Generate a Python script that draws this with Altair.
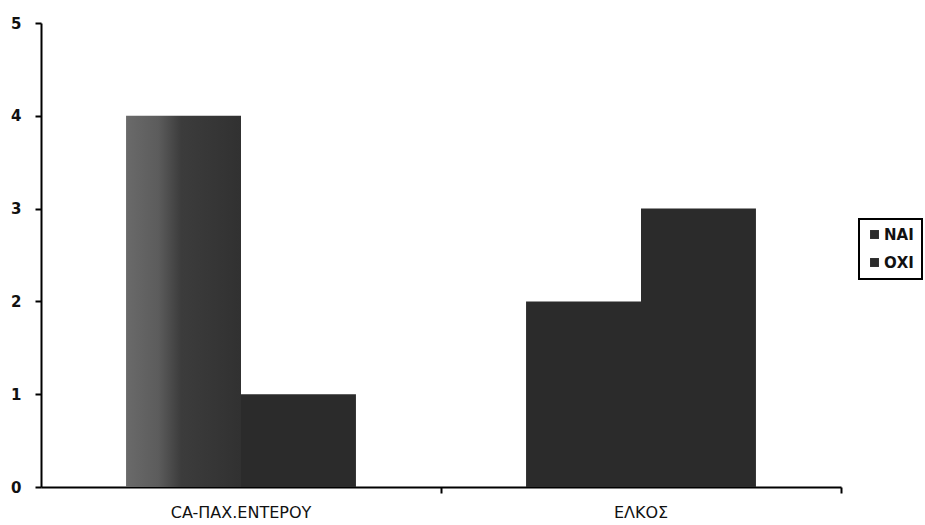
import altair as alt
import pandas as pd

# Chart data: counts per diagnosis, split by answer
categories = ["CA-ΠΑΧ.ΕΝΤΕΡΟΥ", "ΕΛΚΟΣ"]
series = ["ΝΑΙ", "ΟΧΙ"]
nai_values = [4, 2]
oxi_values = [1, 3]
y_ticks = [0, 1, 2, 3, 4, 5]

rows = []
for i, cat in enumerate(categories):
    rows.append({"diagnosis": cat, "answer": series[0], "count": nai_values[i]})
    rows.append({"diagnosis": cat, "answer": series[1], "count": oxi_values[i]})
df = pd.DataFrame(rows)

DARK = "#2b2b2b"
FONT = "DejaVu Sans"

# Shaded fill for the first ΝΑΙ column
shaded = alt.LinearGradient(
    gradient="linear",
    x1=0, x2=1, y1=0, y2=0,
    stops=[
        alt.GradientStop(color="#6a6a6a", offset=0),
        alt.GradientStop(color="#5c5c5c", offset=0.28),
        alt.GradientStop(color="#3c3c3c", offset=0.48),
        alt.GradientStop(color="#313131", offset=1),
    ],
)

bars = alt.Chart(df).mark_bar().encode(
    x=alt.X(
        "diagnosis:N",
        sort=categories,
        title=None,
        scale=alt.Scale(paddingInner=0, paddingOuter=0),
        axis=alt.Axis(
            labelAngle=0,
            bandPosition=1,
            tickSize=6,
            tickWidth=2,
            tickColor="black",
            domainColor="black",
            domainWidth=2,
            labelFont=FONT,
            labelFontSize=16,
            labelColor="#111111",
            labelPadding=11,
        ),
    ),
    xOffset=alt.XOffset(
        "answer:N",
        sort=series,
        scale=alt.Scale(paddingInner=0, paddingOuter=0.74),
    ),
    y=alt.Y(
        "count:Q",
        title=None,
        scale=alt.Scale(domain=[0, 5], nice=False),
        axis=alt.Axis(
            values=y_ticks,
            format="d",
            grid=False,
            tickSize=6,
            tickWidth=2,
            tickColor="black",
            domainColor="black",
            domainWidth=2,
            labelFont=FONT,
            labelFontSize=15,
            labelFontWeight="bold",
            labelColor="#111111",
            labelPadding=14,
        ),
    ),
    color=alt.condition(
        (alt.datum.diagnosis == categories[0]) & (alt.datum.answer == series[0]),
        alt.value(shaded),
        alt.Color(
            "answer:N",
            sort=series,
            scale=alt.Scale(domain=series, range=[DARK, DARK]),
            legend=alt.Legend(
                title=None,
                orient="none",
                legendX=818,
                legendY=196,
                symbolType="square",
                symbolSize=80,
                symbolStrokeWidth=0,
                symbolFillColor=DARK,
                labelFont=FONT,
                labelFontSize=15,
                labelFontWeight="bold",
                labelColor="#111111",
                labelOffset=2,
                fillColor="white",
            ),
        ),
    ),
)

chart = bars.properties(
    width=800,
    height=464,
    padding={"left": 41, "top": 23, "right": 84, "bottom": 38},
    autosize=alt.AutoSizeParams(type="none"),
    background="white",
).configure_view(
    stroke=None
).configure_legend(
    strokeColor="black",
    strokeWidth=2,
    padding=8,
    rowPadding=12,
)

chart.save("out.html", embed_options={"renderer": "svg", "actions": False})
